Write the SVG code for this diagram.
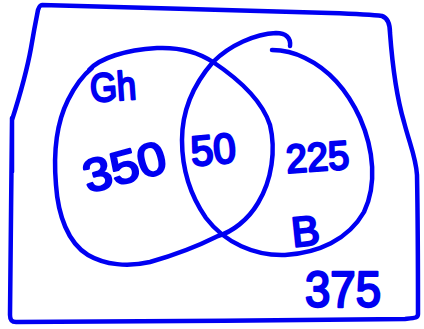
<svg xmlns="http://www.w3.org/2000/svg" width="424" height="329" viewBox="0 0 424 329">
<style>
.ink{fill:none;stroke:#0000f2;stroke-width:4.5;stroke-linecap:round;stroke-linejoin:round}
.t{font-family:"Liberation Sans","DejaVu Sans",sans-serif;fill:#0000f2;stroke:#0000f2;stroke-width:2.4;stroke-linejoin:round}
</style>
<rect width="424" height="329" fill="#ffffff"/>
<g id="frame">
<path class="ink" d="M42,5 C120,7 260,11 330,13 C360,14 375,15 382,16 C388,18 390,24 390,33 C392,60 396,95 404,122 C410,145 416,158 417,175 C418,230 418,280 418,314 C418,318 415,318 405,319 C300,320 100,322 16,322 C11,322 10,319 10,315 C11,260 11,180 12,120 M12,118 L12,172 M12,120 C20,95 27,70 31,48 C34,30 37,15 38,10 C39,7 40,5 42,5"/>
</g>
<g id="setGh">
<path class="ink" d="M89,70 C100,58 125,50 157,48 C180,47 198,52 213,62 C240,80 262,100 270,125 C276,150 272,180 258,203 C248,220 232,232 218,236 C200,245 175,255 150,262 C128,267 105,265 88,255 C68,243 58,215 56,185 C53,150 58,120 68,100 C74,88 82,76 92,68"/>
<text class="t" x="91" y="102" font-size="40" transform="rotate(-4 91 102)" textLength="46" lengthAdjust="spacingAndGlyphs">Gh</text>
<text class="t" x="88" y="193" font-size="46" transform="rotate(-15 88 193)" textLength="84" lengthAdjust="spacingAndGlyphs">350</text>
</g>
<g id="setB">
<path class="ink" d="M290,46 C291,38 286,33 276,33 C255,34 230,45 213,62 C193,85 182,112 182,140 C182,170 190,195 206,218 C225,243 255,256 285,255 C318,253 348,240 364,212 C377,185 374,150 360,118 C348,92 330,70 305,58 C295,53 283,50 272,50"/>
<text class="t" x="293" y="247" font-size="42" transform="rotate(-6 293 247)">B</text>
<text class="t" x="287" y="173" font-size="40" transform="rotate(-4 287 173)" textLength="63" lengthAdjust="spacingAndGlyphs">225</text>
</g>
<g id="both">
<text class="t" x="192" y="166" font-size="42" transform="rotate(-5 192 166)" textLength="45" lengthAdjust="spacingAndGlyphs">50</text>
</g>
<g id="outside">
<text class="t" x="305" y="307" font-size="50" textLength="76" lengthAdjust="spacingAndGlyphs">375</text>
</g>
<g id="connectors"></g>
</svg>
